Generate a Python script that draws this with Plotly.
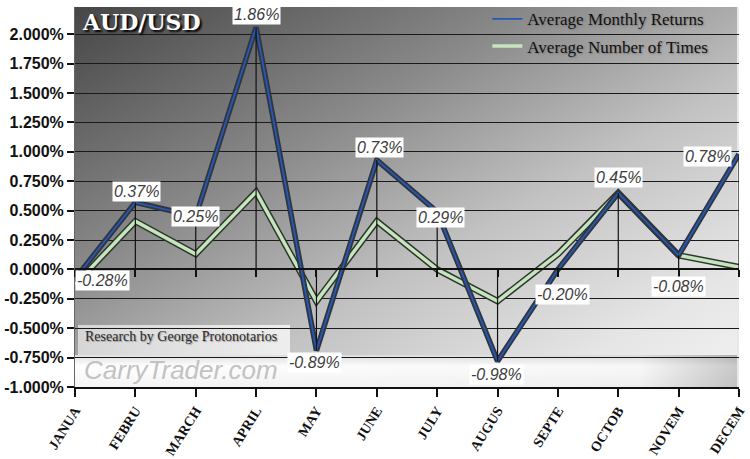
import base64
import numpy as np
import plotly.graph_objects as go

# ---------------- data ----------------
months = ["JANUA", "FEBRU", "MARCH", "APRIL", "MAY", "JUNE",
          "JULY", "AUGUS", "SEPTE", "OCTOB", "NOVEM", "DECEM"]
avg_monthly_returns = [-0.28, 0.37, 0.25, 1.86, -0.89, 0.73,
                       0.29, -0.98, -0.20, 0.45, -0.08, 0.78]
avg_number_of_times = [-0.13, 0.41, 0.13, 0.66, -0.27, 0.41,
                       0.00, -0.27, 0.13, 0.65, 0.12, 0.02]
y_ticks = [-1.0, -0.75, -0.5, -0.25, 0.0, 0.25, 0.5, 0.75, 1.0, 1.25, 1.5, 1.75, 2.0]
y_ticktext = [f"{v:.3f}%" for v in y_ticks]

# ---------------- style ----------------
Y_RANGE = [-1.0, 2.232]
DEPTH = 0.2          # 3-D depth offset of the rear series
Y2_RANGE = [Y_RANGE[0] - DEPTH, Y_RANGE[1] - DEPTH]

blue = np.array(avg_monthly_returns)
green = np.array(avg_number_of_times)
rel = blue + DEPTH
drop_up = np.clip(-rel, 0, None)
drop_down = np.clip(rel, 0, None)

# label offsets (pixels) for data labels
label_shift = [(27, -2), (1, 11), (0, 0), (0, 13), (-2, -12), (3, 13),
               (3, -6), (-1, -13), (5, -25), (0, 16), (0, -31), (-32, -2)]

# background wall (svg gradient)
W, H = 664, 380
svg = f'''<svg xmlns="http://www.w3.org/2000/svg" width="{W}" height="{H}" viewBox="0 0 {W} {H}" preserveAspectRatio="none">
<defs>
<linearGradient id="g" x1="0" y1="0" x2="1" y2="1">
<stop offset="0" stop-color="#464646"/>
<stop offset="0.35" stop-color="#8a8a8a"/>
<stop offset="0.6" stop-color="#c2c2c2"/>
<stop offset="0.85" stop-color="#e6e6e6"/>
<stop offset="1" stop-color="#f2f2f2"/>
</linearGradient>
<linearGradient id="f" x1="0" y1="0" x2="1" y2="0">
<stop offset="0" stop-color="#ffffff"/>
<stop offset="0.85" stop-color="#f8f8f8"/>
<stop offset="1" stop-color="#c8c8c8"/>
</linearGradient>
<linearGradient id="fv" x1="0" y1="0" x2="0" y2="1">
<stop offset="0" stop-color="#000000" stop-opacity="0.12"/>
<stop offset="0.35" stop-color="#000000" stop-opacity="0"/>
<stop offset="1" stop-color="#000000" stop-opacity="0.04"/>
</linearGradient>
<linearGradient id="r" x1="0" y1="0" x2="1" y2="0">
<stop offset="0" stop-color="#d6d6d6"/>
<stop offset="1" stop-color="#eeeeee"/>
</linearGradient>
</defs>
<rect width="{W}" height="{H}" fill="url(#g)"/>
<rect x="0" y="348" width="{W}" height="32" fill="url(#f)"/>
<rect x="0" y="348" width="{W}" height="32" fill="url(#fv)"/>
<rect x="3" y="318" width="212" height="30" fill="url(#r)"/>
<rect x="{W-2}" y="0" width="2" height="{H}" fill="#e8e8e8"/>
</svg>'''
bg_src = "data:image/svg+xml;base64," + base64.b64encode(svg.encode()).decode()

fig = go.Figure()

# rear series: Average Monthly Returns (ribbon look)
fig.add_trace(go.Scatter(x=months, y=blue, yaxis="y2", mode="lines",
                         line=dict(color="#30353f", width=5.5), showlegend=False,
                         hoverinfo="skip"))
fig.add_trace(go.Scatter(x=months, y=blue, yaxis="y2", mode="lines",
                         name="Average Monthly Returns", legendgroup="a",
                         line=dict(color="#2659b5", width=1.8)))

# front series: Average Number of Times
fig.add_trace(go.Scatter(x=months, y=green, mode="lines",
                         line=dict(color="#2c372c", width=6.5), showlegend=False,
                         hoverinfo="skip"))
fig.add_trace(go.Scatter(x=months, y=green, mode="lines",
                         name="Average Number of Times", legendgroup="b",
                         line=dict(color="#c6e4bd", width=3.5)))

# drop lines from the returns series to the zero plane
fig.add_trace(go.Scatter(x=months, y=blue, xaxis="x2", yaxis="y2", mode="markers",
                         marker=dict(size=1, color="rgba(0,0,0,0)"), showlegend=False,
                         hoverinfo="skip",
                         error_y=dict(type="data", symmetric=False, array=drop_up,
                                      arrayminus=drop_down, color="#111111",
                                      thickness=1.2, width=0)))

annotations = []
for m, v, (dx, dy) in zip(months, avg_monthly_returns, label_shift):
    annotations.append(dict(x=m, y=v, xref="x", yref="y2", text=f"{v:.2f}%",
                            showarrow=False, xshift=dx, yshift=dy,
                            bgcolor="white", borderpad=1,
                            font=dict(family="Liberation Sans", size=16,
                                      color="#3c3c3c", style="italic")))

annotations += [
    dict(x=0.008, y=1.0, xref="paper", yref="paper", xanchor="left", yanchor="top",
         text="AUD/USD", showarrow=False,
         font=dict(family="DejaVu Serif", size=22, color="white", weight=900,
                   shadow="2px 2px 2px #000")),
    dict(x=0.012, y=0.132, xref="paper", yref="paper", xanchor="left", yanchor="middle",
         text="Research by George Protonotarios", showarrow=False,
         font=dict(family="Liberation Serif", size=14, color="#2a2a2a",
                   shadow="1px 1px 1px #999")),
    dict(x=0.010, y=0.045, xref="paper", yref="paper", xanchor="left", yanchor="middle",
         text="CarryTrader.com", showarrow=False,
         font=dict(family="Liberation Sans", size=26, color="#c2c2c2", style="italic")),
]

fig.update_layout(
    width=750, height=459,
    margin=dict(l=75, r=11, t=7, b=72, autoexpand=False),
    paper_bgcolor="white",
    plot_bgcolor="rgba(0,0,0,0)",
    showlegend=True,
    legend=dict(x=0.621, y=1.015, xanchor="left", yanchor="top",
                bgcolor="rgba(0,0,0,0)", traceorder="grouped", tracegroupgap=2,
                font=dict(family="Liberation Serif", size=17, color="#111111",
                          shadow="1px 1px 2px #777")),
    xaxis=dict(type="category", range=[0, 11], showgrid=False, automargin=False,
               ticks="outside", ticklen=8, tickwidth=2, tickcolor="#111",
               showline=True, linecolor="#111", linewidth=2,
               tickangle=-58,
               tickfont=dict(family="Liberation Serif", size=14, color="#111",
                             weight=700)),
    xaxis2=dict(type="category", range=[0, 11], overlaying="x", anchor="free",
                position=(0 - Y_RANGE[0]) / (Y_RANGE[1] - Y_RANGE[0]),
                side="bottom", showgrid=False, showticklabels=False, automargin=False,
                ticks="outside", ticklen=7, tickwidth=1.5, tickcolor="#111",
                showline=True, linecolor="#111", linewidth=2),
    yaxis=dict(range=Y_RANGE, tickvals=y_ticks, ticktext=y_ticktext, automargin=False,
               showgrid=True, gridcolor="#1a1a1a", gridwidth=1.3,
               zeroline=True, zerolinecolor="#111", zerolinewidth=2,
               ticks="outside", ticklen=7, tickwidth=2, tickcolor="#111",
               showline=True, linecolor="#666", linewidth=1,
               tickfont=dict(family="Liberation Sans", size=16, color="#111",
                             weight=700)),
    yaxis2=dict(range=Y2_RANGE, overlaying="y", anchor="x", visible=False),
    images=[dict(source=bg_src, xref="paper", yref="paper", x=0, y=1,
                 sizex=1, sizey=1, sizing="stretch", layer="below",
                 xanchor="left", yanchor="top")],
    annotations=annotations,
)

fig.write_html("out.html")
